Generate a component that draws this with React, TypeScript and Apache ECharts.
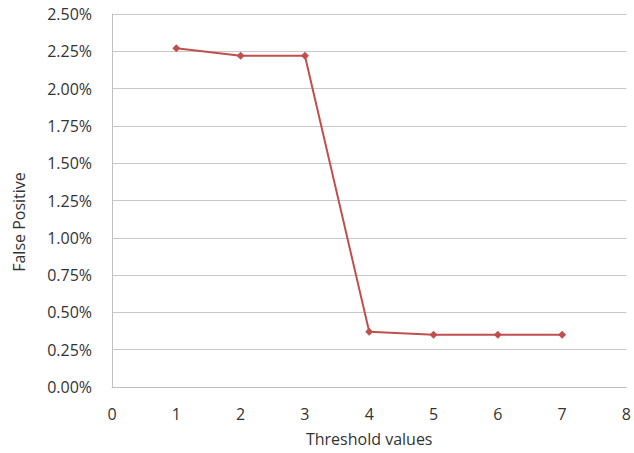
import React, { useEffect, useRef } from "react";
import * as echarts from "echarts";

const thresholds = [1, 2, 3, 4, 5, 6, 7];
const falsePositive = [2.27, 2.22, 2.22, 0.37, 0.35, 0.35, 0.35];
const xTitle = "Threshold values";
const yTitle = "False Positive";

export default function App() {
  const ref = useRef<HTMLDivElement>(null);
  useEffect(() => {
    const chart = echarts.init(ref.current!, null, { renderer: "svg" });
    const font = "'Open Sans', 'Liberation Sans', sans-serif";
    chart.setOption({
      animation: false,
      backgroundColor: "#ffffff",
      grid: { left: 112, right: 6, top: 14, bottom: 66, containLabel: false },
      graphic: [
        {
          type: "text",
          x: 19,
          y: 222,
          rotation: Math.PI / 2,
          style: {
            text: yTitle,
            fill: "#333",
            font: "16px " + font,
            textAlign: "center",
            textVerticalAlign: "middle",
          },
        },
      ],
      xAxis: {
        type: "value",
        min: 0,
        max: 8,
        interval: 1,
        name: xTitle,
        nameLocation: "middle",
        nameGap: 44,
        nameTextStyle: { color: "#333", fontSize: 16, fontFamily: font },
        axisLine: { show: true, lineStyle: { color: "#bfbfbf", width: 1 } },
        axisTick: { show: false },
        splitLine: { show: false },
        axisLabel: { color: "#333", fontSize: 16, fontFamily: font, margin: 19 },
      },
      yAxis: {
        type: "value",
        min: 0,
        max: 2.5,
        interval: 0.25,
        axisLine: { show: true, lineStyle: { color: "#bfbfbf", width: 1 } },
        axisTick: { show: false },
        splitLine: { show: true, lineStyle: { color: "#c8c8c8", width: 1 } },
        axisLabel: {
          color: "#333",
          fontSize: 16,
          fontFamily: font,
          margin: 20,
          formatter: (v: number) => v.toFixed(2) + "%",
        },
      },
      series: [
        {
          type: "line",
          data: thresholds.map((t, i) => [t, falsePositive[i]]),
          symbol: "diamond",
          symbolSize: 8,
          lineStyle: { color: "#c0504d", width: 2 },
          itemStyle: { color: "#c0504d" },
        },
      ],
    });
    return () => chart.dispose();
  }, []);
  return <div ref={ref} style={{ width: 634, height: 453, position: "absolute", left: 0, top: 0 }} />;
}
